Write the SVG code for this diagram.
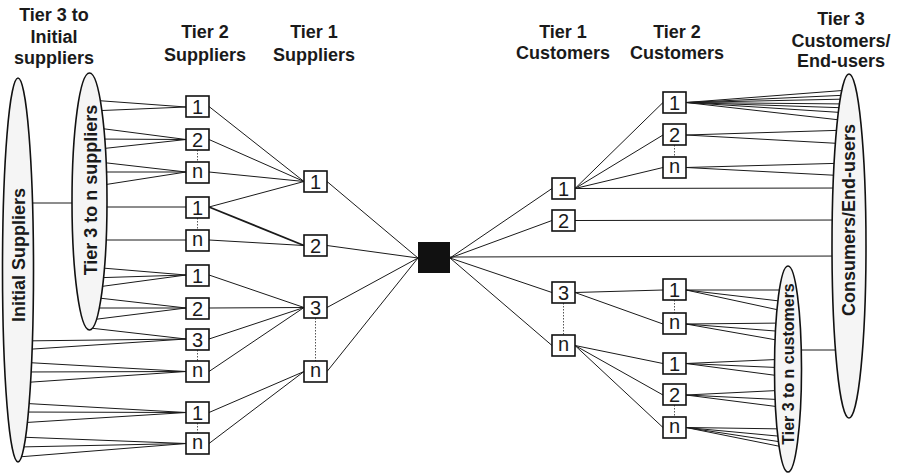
<svg xmlns="http://www.w3.org/2000/svg" width="900" height="475" viewBox="0 0 900 475">
  <style>
    .ln { stroke: #1a1a1a; stroke-width: 1; fill: none; }
    .thick { stroke-width: 1.8; }
    .dot { stroke: #555; stroke-width: 1; stroke-dasharray: 1.5 1.5; fill: none; }
    .box { fill: #fff; stroke: #111; stroke-width: 1.6; }
    .ell { fill: #f5f5f5; stroke: #111; stroke-width: 1.6; }
    .hd { font-family: "Liberation Sans", Arial, sans-serif; font-weight: bold; font-size: 18px; text-anchor: middle; fill: #1a1a1a; }
    .sm { font-size: 16px; }
    .num { font-family: "Liberation Sans", Arial, sans-serif; font-size: 20px; text-anchor: middle; fill: #1a1a1a; }
  </style>

  <!-- column headings -->
  <g id="headings">
    <text class="hd" x="54" y="21">Tier 3 to</text>
    <text class="hd" x="54" y="43">Initial</text>
    <text class="hd" x="54" y="64">suppliers</text>
    <text class="hd" x="205" y="38">Tier 2</text>
    <text class="hd" x="205" y="61">Suppliers</text>
    <text class="hd" x="314" y="38">Tier 1</text>
    <text class="hd" x="314" y="61">Suppliers</text>
    <text class="hd" x="563" y="38">Tier 1</text>
    <text class="hd" x="563" y="59">Customers</text>
    <text class="hd" x="677" y="38">Tier 2</text>
    <text class="hd" x="677" y="59">Customers</text>
    <text class="hd" x="841" y="25">Tier 3</text>
    <text class="hd" x="841" y="47">Customers/</text>
    <text class="hd" x="841" y="67">End-users</text>
  </g>

  <!-- connectors -->
  <g id="connectors">
    <!-- between the supplier ellipses -->
    <line class="ln" x1="18" y1="203" x2="89.5" y2="203"/>
    <!-- tier 3..n suppliers to tier 2 suppliers -->
    <line class="ln" x1="90" y1="100" x2="186" y2="107"/>
    <line class="ln" x1="90" y1="111" x2="186" y2="107"/>
    <line class="ln" x1="90" y1="127" x2="186" y2="139.5"/>
    <line class="ln" x1="90" y1="139" x2="186" y2="139.5"/>
    <line class="ln" x1="90" y1="150" x2="186" y2="139.5"/>
    <line class="ln" x1="90" y1="161" x2="186" y2="172"/>
    <line class="ln" x1="90" y1="172" x2="186" y2="172"/>
    <line class="ln" x1="90" y1="187" x2="186" y2="172"/>
    <line class="ln" x1="90" y1="207" x2="186" y2="207"/>
    <line class="ln" x1="90" y1="240" x2="186" y2="240"/>
    <line class="ln" x1="90" y1="267" x2="186" y2="275"/>
    <line class="ln" x1="90" y1="278" x2="186" y2="275"/>
    <line class="ln" x1="90" y1="288" x2="186" y2="275"/>
    <line class="ln" x1="90" y1="297" x2="186" y2="308"/>
    <line class="ln" x1="90" y1="308" x2="186" y2="308"/>
    <line class="ln" x1="90" y1="320" x2="186" y2="308"/>
    <line class="ln" x1="90" y1="328" x2="186" y2="339"/>
    <!-- initial suppliers to tier 2 suppliers -->
    <line class="ln" x1="18" y1="341" x2="186" y2="339"/>
    <line class="ln" x1="18" y1="350" x2="186" y2="339"/>
    <line class="ln" x1="18" y1="362" x2="186" y2="371.5"/>
    <line class="ln" x1="18" y1="372" x2="186" y2="371.5"/>
    <line class="ln" x1="18" y1="383" x2="186" y2="371.5"/>
    <line class="ln" x1="18" y1="403" x2="186" y2="412.5"/>
    <line class="ln" x1="18" y1="412" x2="186" y2="412.5"/>
    <line class="ln" x1="18" y1="423" x2="186" y2="412.5"/>
    <line class="ln" x1="18" y1="437" x2="186" y2="443.5"/>
    <line class="ln" x1="18" y1="447" x2="186" y2="443.5"/>
    <line class="ln" x1="18" y1="457" x2="186" y2="443.5"/>
    <!-- tier 2 suppliers to tier 1 suppliers -->
    <line class="ln" x1="209" y1="106.5" x2="304" y2="181.5"/>
    <line class="ln" x1="209" y1="139.5" x2="304" y2="181.5"/>
    <line class="ln" x1="209" y1="172" x2="304" y2="181.5"/>
    <line class="ln" x1="209" y1="207" x2="304" y2="181.5"/>
    <line class="ln thick" x1="209" y1="207" x2="304" y2="245.5"/>
    <line class="ln" x1="209" y1="240" x2="304" y2="245.5"/>
    <line class="ln" x1="209" y1="275" x2="304" y2="307.5"/>
    <line class="ln" x1="209" y1="308" x2="304" y2="307.5"/>
    <line class="ln" x1="209" y1="339" x2="304" y2="307.5"/>
    <line class="ln" x1="209" y1="371.5" x2="304" y2="307.5"/>
    <line class="ln" x1="209" y1="412.5" x2="304" y2="371.5"/>
    <line class="ln" x1="209" y1="443.5" x2="304" y2="371.5"/>
    <!-- tier 1 suppliers to focal firm -->
    <line class="ln" x1="327" y1="181.5" x2="418" y2="258"/>
    <line class="ln" x1="327" y1="245.5" x2="418" y2="258"/>
    <line class="ln" x1="327" y1="307.5" x2="418" y2="258"/>
    <line class="ln" x1="327" y1="371.5" x2="418" y2="258"/>
    <!-- focal firm to tier 1 customers and end-users -->
    <line class="ln" x1="450" y1="258" x2="552" y2="188.5"/>
    <line class="ln" x1="450" y1="258" x2="552" y2="220.5"/>
    <line class="ln" x1="450" y1="257" x2="849" y2="256"/>
    <line class="ln" x1="450" y1="258" x2="552" y2="292.5"/>
    <line class="ln" x1="450" y1="258" x2="552" y2="345.5"/>
    <!-- tier 1 customers onward -->
    <line class="ln" x1="575" y1="188.5" x2="663" y2="102.5"/>
    <line class="ln" x1="575" y1="188.5" x2="663" y2="135"/>
    <line class="ln" x1="575" y1="188.5" x2="663" y2="167.5"/>
    <line class="ln" x1="575" y1="188.5" x2="849" y2="188"/>
    <line class="ln" x1="575" y1="220.5" x2="849" y2="220"/>
    <line class="ln" x1="575" y1="292.5" x2="663" y2="290"/>
    <line class="ln" x1="575" y1="292.5" x2="663" y2="324"/>
    <line class="ln" x1="575" y1="345.5" x2="663" y2="363.5"/>
    <line class="ln" x1="575" y1="345.5" x2="663" y2="395"/>
    <line class="ln" x1="575" y1="345.5" x2="663" y2="427.5"/>
    <!-- upper tier 2 customers to consumers/end-users -->
    <line class="ln" x1="686" y1="102.5" x2="849" y2="90"/>
    <line class="ln" x1="686" y1="102.5" x2="849" y2="95"/>
    <line class="ln" x1="686" y1="102.5" x2="849" y2="99"/>
    <line class="ln" x1="686" y1="102.5" x2="849" y2="104"/>
    <line class="ln" x1="686" y1="102.5" x2="849" y2="108"/>
    <line class="ln" x1="686" y1="102.5" x2="849" y2="113"/>
    <line class="ln" x1="686" y1="102.5" x2="849" y2="121"/>
    <line class="ln" x1="686" y1="135" x2="849" y2="130"/>
    <line class="ln" x1="686" y1="135" x2="849" y2="144"/>
    <line class="ln" x1="686" y1="167.5" x2="849" y2="163"/>
    <line class="ln" x1="686" y1="167.5" x2="849" y2="176"/>
    <!-- lower tier 2 customers to tier 3..n customers -->
    <line class="ln" x1="686" y1="290" x2="788" y2="290"/>
    <line class="ln" x1="686" y1="290" x2="788" y2="302"/>
    <line class="ln" x1="686" y1="290" x2="788" y2="312"/>
    <line class="ln" x1="686" y1="324" x2="788" y2="323"/>
    <line class="ln" x1="686" y1="324" x2="788" y2="332"/>
    <line class="ln" x1="686" y1="324" x2="788" y2="342"/>
    <line class="ln" x1="686" y1="363.5" x2="788" y2="359"/>
    <line class="ln" x1="686" y1="363.5" x2="788" y2="368"/>
    <line class="ln" x1="686" y1="363.5" x2="788" y2="377"/>
    <line class="ln" x1="686" y1="395" x2="788" y2="390"/>
    <line class="ln" x1="686" y1="395" x2="788" y2="400"/>
    <line class="ln" x1="686" y1="395" x2="788" y2="408"/>
    <line class="ln" x1="686" y1="427.5" x2="788" y2="429"/>
    <line class="ln" x1="686" y1="427.5" x2="788" y2="437"/>
    <line class="ln" x1="686" y1="427.5" x2="788" y2="443"/>
    <line class="ln" x1="686" y1="427.5" x2="788" y2="448"/>
    <!-- tier 3..n customers to consumers/end-users -->
    <line class="ln" x1="788" y1="350" x2="849" y2="350"/>
    <!-- dotted "1 ... n" ranges -->
    <line class="dot" x1="197.5" y1="150" x2="197.5" y2="162"/>
    <line class="dot" x1="197.5" y1="218" x2="197.5" y2="230"/>
    <line class="dot" x1="197.5" y1="350" x2="197.5" y2="361"/>
    <line class="dot" x1="197.5" y1="423" x2="197.5" y2="433"/>
    <line class="dot" x1="315.5" y1="318" x2="315.5" y2="361"/>
    <line class="dot" x1="563.5" y1="303" x2="563.5" y2="335"/>
    <line class="dot" x1="674.5" y1="145" x2="674.5" y2="157"/>
    <line class="dot" x1="674.5" y1="300" x2="674.5" y2="313"/>
    <line class="dot" x1="674.5" y1="405" x2="674.5" y2="417"/>
  </g>

  <!-- supplier-side ellipses -->
  <g id="initial-suppliers">
    <ellipse class="ell" cx="18" cy="270" rx="15.5" ry="192"/>
    <text class="hd" transform="translate(25,255) rotate(-90)">Initial Suppliers</text>
  </g>
  <g id="tier3-n-suppliers">
    <ellipse class="ell" cx="89.5" cy="201.5" rx="17.5" ry="128.5"/>
    <text class="hd" transform="translate(97,190) rotate(-90)">Tier 3 to n suppliers</text>
  </g>

  <!-- tier 2 suppliers -->
  <g id="t2s-1a"><rect class="box" x="186" y="96" width="23" height="21"/><text class="num" x="197.5" y="114">1</text></g>
  <g id="t2s-2a"><rect class="box" x="186" y="129" width="23" height="21"/><text class="num" x="197.5" y="147">2</text></g>
  <g id="t2s-na"><rect class="box" x="186" y="162" width="23" height="21"/><text class="num" x="197.5" y="177.5">n</text></g>
  <g id="t2s-1b"><rect class="box" x="186" y="197" width="23" height="21"/><text class="num" x="197.5" y="215">1</text></g>
  <g id="t2s-nb"><rect class="box" x="186" y="230" width="23" height="21"/><text class="num" x="197.5" y="245.5">n</text></g>
  <g id="t2s-1c"><rect class="box" x="186" y="265" width="23" height="21"/><text class="num" x="197.5" y="283">1</text></g>
  <g id="t2s-2c"><rect class="box" x="186" y="298" width="23" height="21"/><text class="num" x="197.5" y="316">2</text></g>
  <g id="t2s-3c"><rect class="box" x="186" y="329" width="23" height="21"/><text class="num" x="197.5" y="347">3</text></g>
  <g id="t2s-nc"><rect class="box" x="186" y="361" width="23" height="21"/><text class="num" x="197.5" y="376.5">n</text></g>
  <g id="t2s-1d"><rect class="box" x="186" y="402" width="23" height="21"/><text class="num" x="197.5" y="420">1</text></g>
  <g id="t2s-nd"><rect class="box" x="186" y="433" width="23" height="21"/><text class="num" x="197.5" y="448.5">n</text></g>

  <!-- tier 1 suppliers -->
  <g id="t1s-1"><rect class="box" x="304" y="171" width="23" height="21"/><text class="num" x="315.5" y="189">1</text></g>
  <g id="t1s-2"><rect class="box" x="304" y="235" width="23" height="21"/><text class="num" x="315.5" y="253">2</text></g>
  <g id="t1s-3"><rect class="box" x="304" y="297" width="23" height="21"/><text class="num" x="315.5" y="315">3</text></g>
  <g id="t1s-n"><rect class="box" x="304" y="361" width="23" height="21"/><text class="num" x="315.5" y="376.5">n</text></g>

  <!-- focal firm -->
  <g id="focal-firm"><rect x="418" y="242" width="32" height="31" fill="#111"/></g>

  <!-- tier 1 customers -->
  <g id="t1c-1"><rect class="box" x="552" y="178" width="23" height="21"/><text class="num" x="563.5" y="196">1</text></g>
  <g id="t1c-2"><rect class="box" x="552" y="210" width="23" height="21"/><text class="num" x="563.5" y="228">2</text></g>
  <g id="t1c-3"><rect class="box" x="552" y="282" width="23" height="21"/><text class="num" x="563.5" y="300">3</text></g>
  <g id="t1c-n"><rect class="box" x="552" y="335" width="23" height="21"/><text class="num" x="563.5" y="350.5">n</text></g>

  <!-- tier 2 customers -->
  <g id="t2c-1a"><rect class="box" x="663" y="92" width="23" height="21"/><text class="num" x="674.5" y="110">1</text></g>
  <g id="t2c-2a"><rect class="box" x="663" y="124" width="23" height="21"/><text class="num" x="674.5" y="142">2</text></g>
  <g id="t2c-na"><rect class="box" x="663" y="157" width="23" height="21"/><text class="num" x="674.5" y="172.5">n</text></g>
  <g id="t2c-1b"><rect class="box" x="663" y="279" width="23" height="21"/><text class="num" x="674.5" y="297">1</text></g>
  <g id="t2c-nb"><rect class="box" x="663" y="313" width="23" height="21"/><text class="num" x="674.5" y="328.5">n</text></g>
  <g id="t2c-1c"><rect class="box" x="663" y="353" width="23" height="21"/><text class="num" x="674.5" y="371">1</text></g>
  <g id="t2c-2c"><rect class="box" x="663" y="384" width="23" height="21"/><text class="num" x="674.5" y="402">2</text></g>
  <g id="t2c-nc"><rect class="box" x="663" y="417" width="23" height="21"/><text class="num" x="674.5" y="432.5">n</text></g>

  <!-- customer-side ellipses -->
  <g id="consumers-end-users">
    <ellipse class="ell" cx="849" cy="246" rx="17" ry="172"/>
    <text class="hd" transform="translate(855,220) rotate(-90)">Consumers/End-users</text>
  </g>
  <g id="tier3-n-customers">
    <ellipse class="ell" cx="788" cy="369" rx="13.5" ry="103"/>
    <text class="hd sm" transform="translate(794,364) rotate(-90)">Tier 3 to n customers</text>
  </g>
</svg>
